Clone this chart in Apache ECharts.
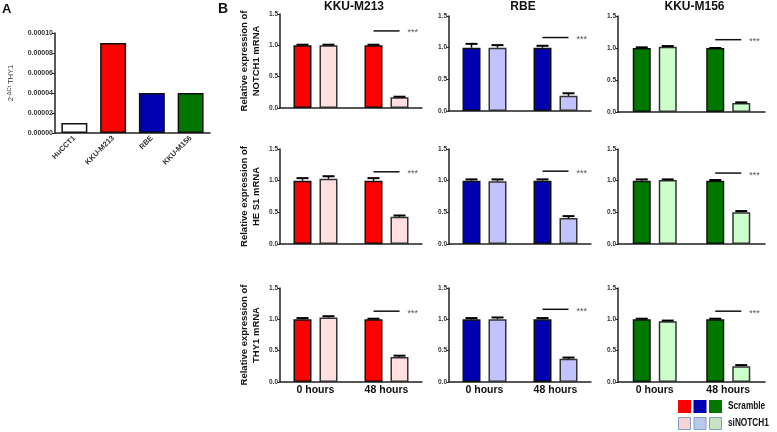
<!DOCTYPE html>
<html>
<head>
<meta charset="utf-8">
<script src="https://cdn.jsdelivr.net/npm/echarts@6/dist/echarts.min.js"></script>
<style>
  html, body { margin: 0; padding: 0; background: #fff; }
  #main { width: 777px; height: 432px; }
</style>
</head>
<body>
<div id="main"></div>
<script>
// panel A
const aCells = ['HuCCT1', 'KKU-M213', 'RBE', 'KKU-M156']
const aValues = [0.00001, 0.00009, 0.00004, 0.00004]
const aColors = ['#ffffff', '#ff0000', '#0000b0', '#007800']

// panel B
const groups = ['0 hours', '48 hours']
const cellLines = ['KKU-M213', 'RBE', 'KKU-M156']
const genes = ['NOTCH1', 'HE S1', 'THY1']
// each row: one cell line, [0 hours, 48 hours]
const notch1Scr = [[1.00, 1.00], [1.00, 1.00], [1.00, 1.00]]
const notch1ScrErr = [[0.01, 0.01], [0.06, 0.03], [0.01, 0.00]]
const notch1Si = [[1.00, 0.17], [1.00, 0.24], [1.02, 0.14]]
const notch1SiErr = [[0.01, 0.01], [0.04, 0.04], [0.01, 0.01]]
const notch1Sig = [1.23, 1.16, 1.13]

const hes1Scr = [[1.00, 1.00], [1.00, 1.00], [1.00, 1.00]]
const hes1ScrErr = [[0.04, 0.04], [0.02, 0.02], [0.02, 0.01]]
const hes1Si = [[1.03, 0.43], [0.99, 0.41], [1.01, 0.50]]
const hes1SiErr = [[0.04, 0.02], [0.03, 0.03], [0.01, 0.02]]
const hes1Sig = [1.14, 1.15, 1.12]

const thy1Scr = [[1.00, 1.00], [1.00, 1.00], [1.00, 1.00]]
const thy1ScrErr = [[0.02, 0.01], [0.02, 0.02], [0.01, 0.01]]
const thy1Si = [[1.03, 0.40], [1.00, 0.37], [0.97, 0.25]]
const thy1SiErr = [[0.02, 0.02], [0.03, 0.02], [0.01, 0.02]]
const thy1Sig = [1.13, 1.16, 1.13]

const yTicks = [0, 0.5, 1.0, 1.5]

const scrData = [notch1Scr, hes1Scr, thy1Scr]
const scrErr = [notch1ScrErr, hes1ScrErr, thy1ScrErr]
const siData = [notch1Si, hes1Si, thy1Si]
const siErr = [notch1SiErr, hes1SiErr, thy1SiErr]
const sigData = [notch1Sig, hes1Sig, thy1Sig]

const darkColors = ['#ff0000', '#0000b0', '#007800']
const lightColors = ['#ffdfdf', '#c2c2ff', '#ccffcc']

const FONT = '"Liberation Sans", Arial, sans-serif'
const colLeft = [280, 449, 618]
const colWidth = [142, 142, 147]
const rowTop = [[14, 16, 16], [149, 149, 149], [288, 288, 288]]
const rowH = [[94, 95, 96], [95, 95, 95], [94, 94, 94]]
const barW = 18
const barGapPx = 8
const half = (barW + barGapPx) / 2

const chart = echarts.init(document.getElementById('main'))

const grids = [{ left: 55, top: 33, width: 155, height: 100 }]
const xAxes = [{
  type: 'category', gridIndex: 0, data: aCells,
  axisLine: { lineStyle: { color: '#222', width: 1.5 } },
  axisTick: { alignWithLabel: true, length: 3, lineStyle: { color: '#222' } },
  axisLabel: { rotate: 45, interval: 0, fontSize: 7.5, fontWeight: 'bold', color: '#333', fontFamily: FONT, margin: 4 }
}]
const yAxes = [{
  type: 'value', gridIndex: 0, min: 0, max: 0.0001, interval: 0.00002,
  name: '{b|2}{s|-ΔCt}{b| THY1}', nameLocation: 'middle', nameGap: 39, nameRotate: 90,
  nameTextStyle: {
    rich: {
      b: { fontSize: 7.5, fontFamily: FONT, color: '#333' },
      s: { fontSize: 5.5, fontFamily: FONT, color: '#333', padding: [0, 0, 4, 0] }
    }
  },
  axisLine: { show: true, lineStyle: { color: '#222', width: 1.5 } },
  axisTick: { show: true, length: 3, lineStyle: { color: '#222' } },
  splitLine: { show: false },
  axisLabel: { fontSize: 7, fontWeight: 'bold', color: '#333', fontFamily: FONT, margin: 2, formatter: v => v.toFixed(5) }
}]
const series = [{
  type: 'bar', xAxisIndex: 0, yAxisIndex: 0, barCategoryGap: '33%',
  data: aValues.map((v, i) => ({ value: v, itemStyle: { color: aColors[i] } })),
  itemStyle: { borderColor: '#111', borderWidth: 1.5 }
}]

function errRender(params, api) {
  const cat = api.value(0), v = api.value(1), e = api.value(2), side = api.value(3)
  const base = api.coord([cat, v])
  const top = api.coord([cat, v + e])
  const x = base[0] + (side ? half : -half)
  return {
    type: 'group',
    children: [
      { type: 'line', shape: { x1: x, y1: base[1], x2: x, y2: top[1] }, style: { stroke: '#000', lineWidth: 1.5 } },
      { type: 'line', shape: { x1: x - 6, y1: top[1], x2: x + 6, y2: top[1] }, style: { stroke: '#000', lineWidth: 2 } }
    ]
  }
}

function sigRender(params, api) {
  const p = api.coord([api.value(0), api.value(1)])
  return {
    type: 'group',
    children: [
      { type: 'line', shape: { x1: p[0] - half, y1: p[1], x2: p[0] + half, y2: p[1] }, style: { stroke: '#111', lineWidth: 1.5 } },
      { type: 'text', style: { x: p[0] + half + 8, y: p[1] + 2, text: '***', fill: '#555', font: '9px ' + FONT, verticalAlign: 'middle' } }
    ]
  }
}

const titles = [
  { text: 'A', left: 2, top: 3, padding: 0, textStyle: { fontSize: 13, fontWeight: 'bold', color: '#111', fontFamily: FONT } },
  { text: 'B', left: 218, top: 2, padding: 0, textStyle: { fontSize: 14, fontWeight: 'bold', color: '#111', fontFamily: FONT } }
]

for (let r = 0; r < 3; r++) {
  for (let c = 0; c < 3; c++) {
    const g = grids.length
    grids.push({ left: colLeft[c], top: rowTop[r][c], width: colWidth[c], height: rowH[r][c] })
    xAxes.push({
      type: 'category', gridIndex: g, data: groups,
      axisLine: { lineStyle: { color: '#222', width: 1.5 } },
      axisTick: { alignWithLabel: true, length: 3, lineStyle: { color: '#222' } },
      axisLabel: { show: r === 2, fontSize: 10.5, fontWeight: 'bold', color: '#111', fontFamily: FONT, margin: 3 }
    })
    yAxes.push({
      type: 'value', gridIndex: g, min: yTicks[0], max: yTicks[yTicks.length - 1], interval: 0.5,
      name: c === 0 ? 'Relative expression of\n' + genes[r] + ' mRNA' : '',
      nameLocation: 'middle', nameGap: 18, nameRotate: 90,
      nameTextStyle: { fontSize: 9.5, fontWeight: 'bold', color: '#111', fontFamily: FONT, lineHeight: 12 },
      axisLine: { show: true, lineStyle: { color: '#222', width: 1.5 } },
      axisTick: { show: true, length: 2.5, lineStyle: { color: '#222' } },
      splitLine: { show: false },
      axisLabel: { fontSize: 6.5, fontWeight: 'bold', color: '#333', fontFamily: FONT, margin: 2, formatter: v => v.toFixed(1) }
    })
    series.push({
      name: 'Scramble', type: 'bar', xAxisIndex: g, yAxisIndex: g,
      barWidth: barW, barGap: (barGapPx / barW * 100) + '%',
      data: scrData[r][c],
      itemStyle: { color: darkColors[c], borderColor: '#111', borderWidth: 1.5 }
    })
    series.push({
      name: 'siNOTCH1', type: 'bar', xAxisIndex: g, yAxisIndex: g,
      barWidth: barW, barGap: (barGapPx / barW * 100) + '%',
      data: siData[r][c],
      itemStyle: { color: lightColors[c], borderColor: '#333', borderWidth: 1.5 }
    })
    const errs = []
    for (let k = 0; k < 2; k++) {
      errs.push([k, scrData[r][c][k], scrErr[r][c][k], 0])
      errs.push([k, siData[r][c][k], siErr[r][c][k], 1])
    }
    series.push({ type: 'custom', xAxisIndex: g, yAxisIndex: g, z: 5, data: errs, renderItem: errRender })
    series.push({ type: 'custom', xAxisIndex: g, yAxisIndex: g, z: 5, data: [[1, sigData[r][c]]], renderItem: sigRender })
  }
}

cellLines.forEach((name, c) => {
  titles.push({
    text: name, left: colLeft[c] + colWidth[c] / 2 + 3, top: 1, padding: 0, textAlign: 'center',
    textStyle: { fontSize: 12, fontWeight: 'bold', color: '#111', fontFamily: FONT }
  })
})

// legend squares
const legendGraphics = []
darkColors.forEach((col, i) => {
  legendGraphics.push({ type: 'rect', left: 678 + i * 15.5, top: 400, shape: { width: 13, height: 13 }, style: { fill: col } })
})
const lightLegend = ['#f9d3d3', '#b9c9ea', '#c9e2c2']
lightLegend.forEach((col, i) => {
  legendGraphics.push({ type: 'rect', left: 678 + i * 15.5, top: 417, shape: { width: 12, height: 12 }, style: { fill: col, stroke: '#7f9fcf', lineWidth: 1 } })
})
legendGraphics.push({ type: 'text', x: 728, y: 406, scaleX: 0.75, style: { text: 'Scramble', font: 'bold 11px ' + FONT, fill: '#111', verticalAlign: 'middle' } })
legendGraphics.push({ type: 'text', x: 728, y: 423, scaleX: 0.75, style: { text: 'siNOTCH1', font: 'bold 11px ' + FONT, fill: '#111', verticalAlign: 'middle' } })

chart.setOption({
  animation: false,
  backgroundColor: '#fff',
  title: titles,
  grid: grids,
  xAxis: xAxes,
  yAxis: yAxes,
  series: series,
  graphic: legendGraphics
})
</script>
</body>
</html>
